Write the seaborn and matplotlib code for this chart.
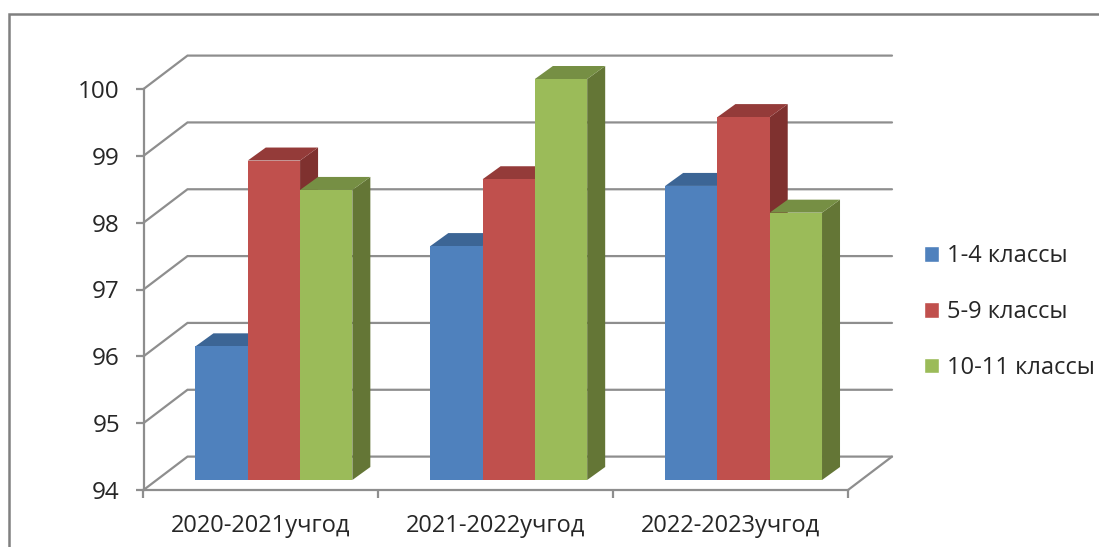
import pandas as pd
import matplotlib
matplotlib.use("Agg")
import matplotlib.pyplot as plt
from matplotlib.lines import Line2D
from matplotlib.patches import Polygon
import seaborn as sns

# Values
years = ["2020-2021учгод", "2021-2022учгод", "2022-2023учгод"]
grades = ["1-4 классы", "5-9 классы", "10-11 классы"]
grade_1_4 = [96.0, 97.5, 98.4]
grade_5_9 = [98.78, 98.5, 99.43]
grade_10_11 = [98.34, 100.0, 98.0]

face_colors = ["#4F81BD", "#C0504D", "#9BBB59"]
top_colors = ["#3C6595", "#943B39", "#768F44"]
side_colors = ["#335680", "#7F312F", "#647636"]
line_color = "#8E8E8E"
text_color = "#262626"

W, H = 1099, 547

sns.set_theme(style="white")
plt.rcParams["font.family"] = ["Open Sans", "DejaVu Sans"]

df = pd.DataFrame({"year": years * 3,
                   "grade": [g for g in grades for _ in years],
                   "value": grade_1_4 + grade_5_9 + grade_10_11})


def axes_box(left, right, top, bottom):
    return [left / W, 1 - bottom / H, (right - left) / W, (bottom - top) / H]


fig = plt.figure(figsize=(W / 100, H / 100), dpi=100, facecolor="white")

# front plane carries the axis lines, ticks and labels
front = fig.add_axes(axes_box(143.5, 848, 89, 490))
# bars stand a bit further back, same scale
bars = fig.add_axes(axes_box(156.5, 861, 79, 480))
bars.patch.set_alpha(0)

sns.barplot(data=df, x="year", y="value", hue="grade", hue_order=grades,
            palette=face_colors, saturation=1, width=0.668, gap=0, ax=bars)
bars.set_xlim(-0.5, 2.5)
bars.set_ylim(94, 100)
bars.axis("off")
handles, labels = bars.get_legend_handles_labels()
bars.get_legend().remove()

front.set_xlim(-0.5, 2.5)
front.set_ylim(94, 100)
front.set_xticks(range(3), years)
front.set_xticks([-0.5, 0.5, 1.5, 2.5], minor=True)
front.set_yticks(range(94, 101))
front.tick_params(axis="x", which="major", length=0, pad=17, labelsize=17, labelcolor=text_color)
front.tick_params(axis="x", which="minor", length=5.5, width=1.6, color=line_color, bottom=True)
front.tick_params(axis="y", length=5.5, width=1.6, color=line_color, pad=11.5, left=True,
                  labelsize=17.5, labelcolor=text_color)
for name in ["top", "right"]:
    front.spines[name].set_visible(False)
for name in ["left", "bottom"]:
    front.spines[name].set_color(line_color)
    front.spines[name].set_linewidth(1.6)

# depth of the floor and the walls, in pixels
wall_dx, wall_dy = 44 / (704.5 / 3), 33.4 / (401 / 6)
for value in range(94, 101):
    front.plot([-0.5, -0.5 + wall_dx, 2.5 + wall_dx], [value, value + wall_dy, value + wall_dy],
               color=line_color, lw=1.6, clip_on=False, solid_joinstyle="miter")
front.plot([2.5, 2.5 + wall_dx], [94, 94 + wall_dy], color=line_color, lw=1.6, clip_on=False)

# depth of the bars: sides and tops are built from the seaborn rectangles
bar_dx, bar_dy = 18 / (704.5 / 3), 13 / (401 / 6)
rects = [(p, i) for i, container in enumerate(bars.containers) for p in container]
rects.sort(key=lambda item: item[0].get_x())
for order, (rect, i) in enumerate(rects):
    x0 = rect.get_x()
    x1 = x0 + rect.get_width()
    y1 = rect.get_height()
    base = 94
    rect.set_zorder(3 + order * 3 + 2)
    rect.set_edgecolor("none")
    bars.add_patch(Polygon([(x1, base), (x1 + bar_dx, base + bar_dy), (x1 + bar_dx, y1 + bar_dy), (x1, y1)],
                           closed=True, facecolor=side_colors[i], edgecolor="none",
                           clip_on=False, zorder=3 + order * 3))
    bars.add_patch(Polygon([(x0, y1), (x0 + bar_dx, y1 + bar_dy), (x1 + bar_dx, y1 + bar_dy), (x1, y1)],
                           closed=True, facecolor=top_colors[i], edgecolor="none",
                           clip_on=False, zorder=3 + order * 3 + 1))

fig.legend(handles, labels, loc="center left", bbox_to_anchor=(924 / W, 1 - 312 / H),
           frameon=False, fontsize=17, labelcolor=text_color, borderpad=0, borderaxespad=0,
           handlelength=0.64, handleheight=0.64, handletextpad=0.34, labelspacing=1.34)

# frame of the picture, open on the right and at the bottom
fig.add_artist(Line2D([9 / W, 9 / W, 1], [0, 1 - 13.5 / H, 1 - 13.5 / H], color="#808080", lw=1.8,
                      solid_joinstyle="miter"))

fig.savefig("out.png", dpi=100, facecolor="white")
